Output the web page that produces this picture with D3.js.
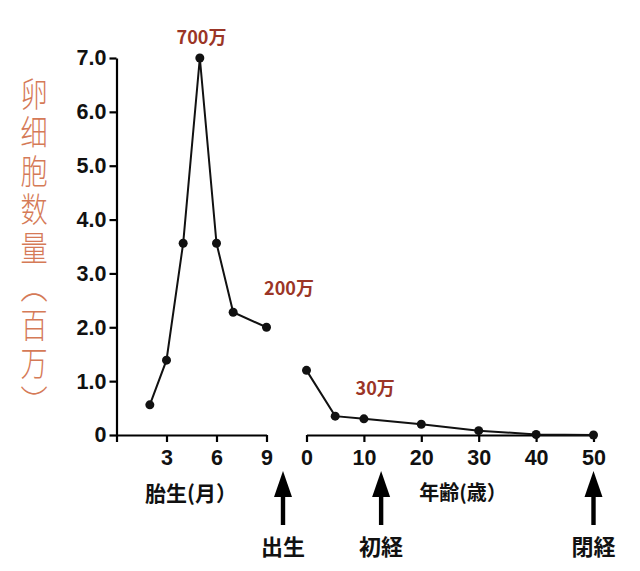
<!DOCTYPE html>
<html><head><meta charset="utf-8">
<script src="https://cdn.jsdelivr.net/npm/d3@7"></script>
<style>body{margin:0;background:#fff}svg{display:block}</style>
</head><body>
<script>
// Data
const fetalMonths = [2, 3, 4, 5, 6, 7, 9];
const fetalCounts = [0.56, 1.39, 3.56, 7.0, 3.56, 2.28, 2.0];
const ageYears = [0, 5, 10, 20, 30, 40, 50];
const ageCounts = [1.2, 0.35, 0.3, 0.2, 0.08, 0.01, 0];
const yTicks = [0, 1, 2, 3, 4, 5, 6, 7];
const fetalTicks = [0, 3, 6, 9];
const ageTicks = [0, 10, 20, 30, 40, 50];
const annotations = [
  {panel: "fetal", x: 5, y: 7.0, text: "700万"},
  {panel: "fetal", x: 9, y: 2.0, text: "200万"},
  {panel: "age", x: 5, y: 0.35, text: "30万"}
];
const events = [
  {panel: "fetalEnd", label: "出生"},
  {panel: "age", x: 13, label: "初経"},
  {panel: "age", x: 50, label: "閉経"}
];

const W = 640, H = 571;
const svg = d3.select("body").append("svg").attr("width", W).attr("height", H);

const y = d3.scaleLinear().domain([0, 7]).range([435, 58]);
const xL = d3.scaleLinear().domain([0, 9]).range([116.5, 266.5]);
const xR = d3.scaleLinear().domain([0, 50]).range([306.5, 593.5]);

const numFont = "'Liberation Sans', Arial, sans-serif";
const cjkFont = "'Noto Sans CJK JP', 'Noto Sans CJK SC', sans-serif";

function styleAxis(g) {
  g.selectAll("path.domain").attr("stroke", "#000").attr("stroke-width", 2.2);
  g.selectAll(".tick line").attr("stroke", "#000").attr("stroke-width", 2.2);
  g.selectAll(".tick text").attr("fill", "#111").attr("font-family", numFont)
    .attr("font-weight", "bold").attr("font-size", 21.5);
}

// Y axis
const gy = svg.append("g").attr("transform", `translate(${xL(0)},0)`)
  .call(d3.axisLeft(y).tickValues(yTicks).tickSize(7).tickSizeOuter(0)
    .tickPadding(3).tickFormat(d => d === 0 ? "0" : d3.format(".1f")(d)));
styleAxis(gy);

// Left x axis
const gxl = svg.append("g").attr("transform", `translate(0,${y(0)})`)
  .call(d3.axisBottom(xL).tickValues(fetalTicks).tickSize(7).tickSizeOuter(0)
    .tickPadding(8).tickFormat(d => d === 0 ? "" : d));
styleAxis(gxl);

// Right x axis
const gxr = svg.append("g").attr("transform", `translate(0,${y(0)})`)
  .call(d3.axisBottom(xR).tickValues(ageTicks).tickSize(7).tickSizeOuter(0)
    .tickPadding(8));
styleAxis(gxr);

// Lines
const lineL = d3.line().x((d, i) => xL(fetalMonths[i])).y(d => y(d));
const lineR = d3.line().x((d, i) => xR(ageYears[i])).y(d => y(d));
svg.append("path").attr("d", lineL(fetalCounts)).attr("fill", "none").attr("stroke", "#111").attr("stroke-width", 2);
svg.append("path").attr("d", lineR(ageCounts)).attr("fill", "none").attr("stroke", "#111").attr("stroke-width", 2);
svg.selectAll("circle.l").data(fetalCounts).join("circle").attr("class", "l")
  .attr("cx", (d, i) => xL(fetalMonths[i])).attr("cy", d => y(d)).attr("r", 4.5).attr("fill", "#111");
svg.selectAll("circle.r").data(ageCounts).join("circle").attr("class", "r")
  .attr("cx", (d, i) => xR(ageYears[i])).attr("cy", d => y(d)).attr("r", 4.5).attr("fill", "#111");

// Annotations
const annOffsets = [[1.7, -18.5], [22.5, -37], [40, -25.6]];
annotations.forEach((a, i) => {
  const sx = a.panel === "fetal" ? xL(a.x) : xR(a.x);
  svg.append("text").attr("x", sx + annOffsets[i][0]).attr("y", y(a.y) + annOffsets[i][1])
    .attr("text-anchor", "middle").attr("fill", "#9b3526")
    .attr("font-family", cjkFont).attr("font-weight", "bold").attr("font-size", 18)
    .attr("dominant-baseline", "middle").text(a.text);
});

// Y title (vertical)
svg.append("g").attr("transform", "translate(34,250) scale(0.8,1)")
  .append("text").attr("x", 0).attr("y", 0)
  .attr("text-anchor", "middle")
  .style("writing-mode", "vertical-rl")
  .attr("fill", "#d57a57").attr("font-family", "'Noto Sans CJK SC', sans-serif")
  .attr("font-weight", 300).attr("font-size", 34).attr("letter-spacing", 4.5)
  .text("卵细胞数量（百万）");

// X titles
svg.append("text").attr("x", 191).attr("y", 501).attr("text-anchor", "middle")
  .attr("font-family", cjkFont).attr("font-weight", "bold").attr("font-size", 21).attr("fill", "#111")
  .text("胎生(月）");
svg.append("text").attr("x", 463).attr("y", 500).attr("text-anchor", "middle")
  .attr("font-family", cjkFont).attr("font-weight", "bold").attr("font-size", 20).attr("fill", "#111")
  .text("年齢(歳）");

// Arrows
const arrowX = [283, xR(13), xR(50)];
events.forEach((e, i) => {
  const ax = arrowX[i];
  const g = svg.append("g");
  g.append("rect").attr("x", ax - 2.2).attr("y", 494).attr("width", 4.4).attr("height", 31).attr("fill", "#000");
  g.append("path").attr("d", `M${ax},471 L${ax - 9},497 L${ax + 9},497 Z`).attr("fill", "#000");
  g.append("text").attr("x", ax).attr("y", 555).attr("text-anchor", "middle")
    .attr("font-family", cjkFont).attr("font-weight", "bold").attr("font-size", 22).attr("fill", "#111")
    .text(e.label);
});
</script>
</body></html>
